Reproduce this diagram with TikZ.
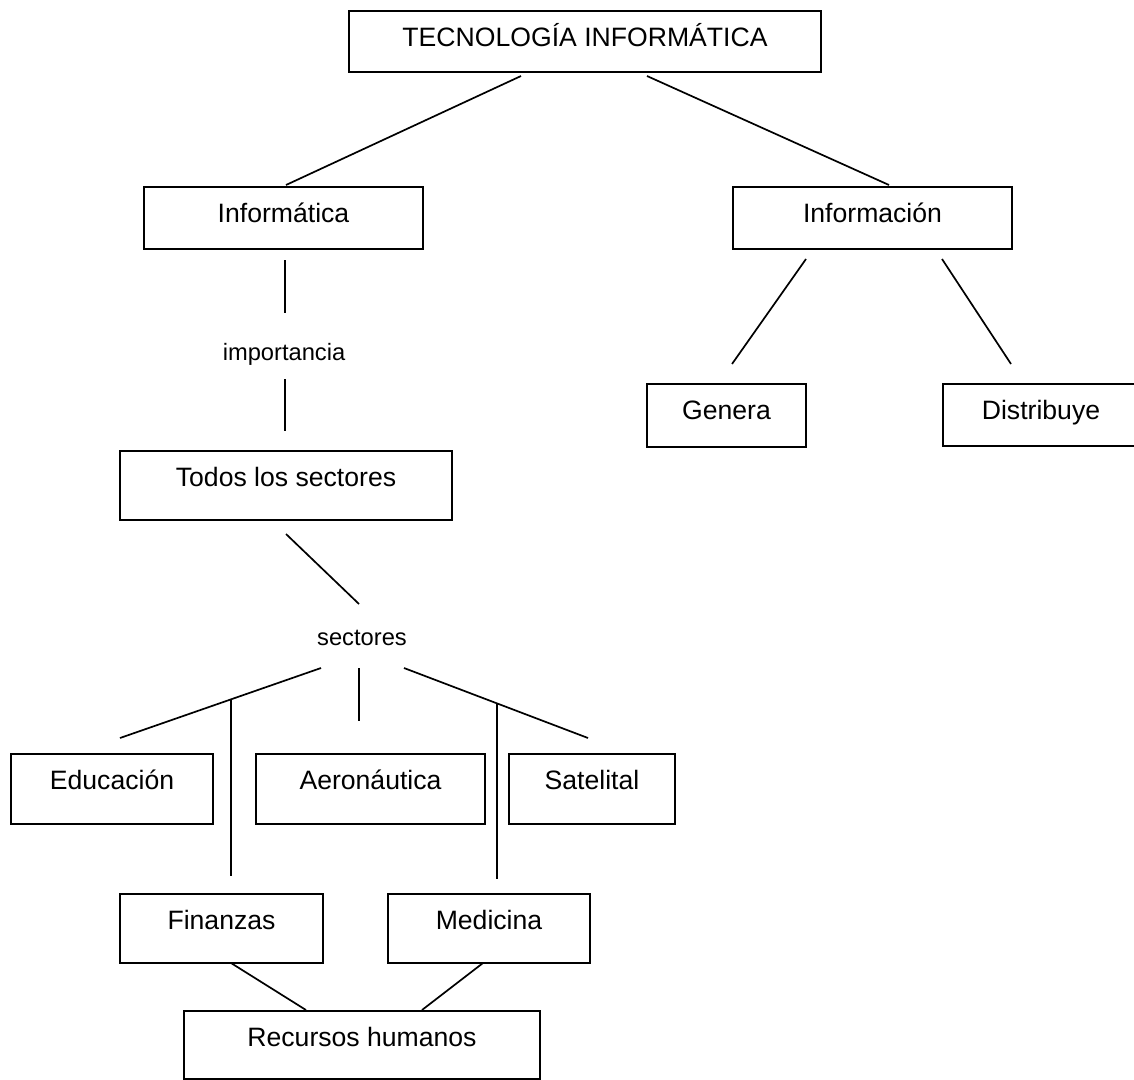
\documentclass[tikz,border=0pt]{standalone}
\usepackage{fontspec}
\setmainfont{Liberation Sans}
\begin{document}
\begin{tikzpicture}[x=1pt,y=-1pt,
  box/.style={draw=black, line width=2pt, inner sep=0pt, anchor=north west,
    text height=19pt, font=\fontsize{26.6}{30}\selectfont},
  lbl/.style={inner sep=0pt, anchor=base, font=\fontsize{23.7}{28}\selectfont},
  conn/.style={draw=black, line width=1.7pt}]
\path[use as bounding box, clip] (0,0) rectangle (1134,1079);
\fill[white] (0,0) rectangle (1134,1079);
% boxes
\node[box, minimum width=472pt, minimum height=61.4pt, text depth=9.4pt] (ti) at (348,9.6) {TECNOLOGÍA INFORMÁTICA};
\node[box, minimum width=279pt, minimum height=62pt, text depth=10pt] (inf) at (143,186) {Informática};
\node[box, minimum width=279pt, minimum height=62pt, text depth=10pt] (info) at (732,186) {Información};
\node[box, minimum width=159pt, minimum height=63pt, text depth=11pt] (gen) at (646,383) {Genera};
\node[box, minimum width=196pt, minimum height=62pt, text depth=10pt] (dis) at (942,383) {Distribuye};
\node[box, minimum width=332pt, minimum height=69pt, text depth=17pt] (todos) at (119,450) {Todos los sectores};
\node[box, minimum width=202pt, minimum height=70pt, text depth=18pt] (edu) at (10,753) {Educación};
\node[box, minimum width=229pt, minimum height=70pt, text depth=18pt] (aer) at (255,753) {Aeronáutica};
\node[box, minimum width=166pt, minimum height=70pt, text depth=18pt] (sat) at (508,753) {Satelital};
\node[box, minimum width=203pt, minimum height=69pt, text depth=17pt] (fin) at (119,893) {Finanzas};
\node[box, minimum width=202pt, minimum height=69pt, text depth=17pt] (med) at (387,893) {Medicina};
\node[box, minimum width=356pt, minimum height=68pt, text depth=16pt] (rh) at (183,1010) {Recursos humanos};
% free labels
\node[lbl] (imp) at (284,360) {importancia};
\node[lbl] (sec) at (362,645) {sectores};
% connector end points
\coordinate (a1) at (521,76);  \coordinate (a2) at (286,185);
\coordinate (b1) at (647,76);  \coordinate (b2) at (889,185);
\coordinate (c1) at (285,260); \coordinate (c2) at (285,313);
\coordinate (d1) at (285,379); \coordinate (d2) at (285,431);
\coordinate (e1) at (286,534); \coordinate (e2) at (359,604);
\coordinate (f1) at (806,259); \coordinate (f2) at (732,364);
\coordinate (g1) at (942,259); \coordinate (g2) at (1011,364);
\coordinate (h1) at (321,668); \coordinate (h2) at (120,738);
\coordinate (i1) at (359,668); \coordinate (i2) at (359,721);
\coordinate (j1) at (404,668); \coordinate (j2) at (588,738);
\coordinate (k1) at (231,699.3); \coordinate (k2) at (231,876);
\coordinate (l1) at (497,703.4); \coordinate (l2) at (497,879);
\coordinate (m1) at (231,963); \coordinate (m2) at (306,1010);
\coordinate (n1) at (483,963); \coordinate (n2) at (422,1010);
% connectors
\draw[conn] (a1) -- (a2);
\draw[conn] (b1) -- (b2);
\draw[conn] (c1) -- (c2);
\draw[conn] (d1) -- (d2);
\draw[conn] (e1) -- (e2);
\draw[conn] (f1) -- (f2);
\draw[conn] (g1) -- (g2);
\draw[conn] (h1) -- (h2);
\draw[conn] (i1) -- (i2);
\draw[conn] (j1) -- (j2);
\draw[conn] (k1) -- (k2);
\draw[conn] (l1) -- (l2);
\draw[conn] (m1) -- (m2);
\draw[conn] (n1) -- (n2);
\end{tikzpicture}
\end{document}
